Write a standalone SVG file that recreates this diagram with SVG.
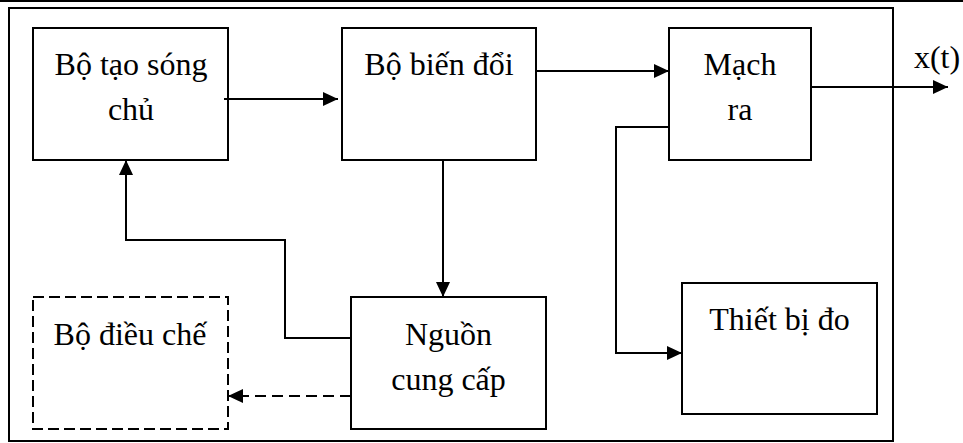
<svg xmlns="http://www.w3.org/2000/svg" width="963" height="443" viewBox="0 0 963 443">
<defs>
<marker id="arr" viewBox="0 0 15 14" refX="15" refY="7" markerWidth="15" markerHeight="14" markerUnits="userSpaceOnUse" orient="auto">
<path d="M0,0 L15,7 L0,14 Z" fill="#000"/>
</marker>
</defs>
<rect width="963" height="443" fill="#fff"/>
<line x1="0" y1="1" x2="963" y2="1" stroke="#000" stroke-width="2"/>
<rect id="frame" x="9" y="8" width="884" height="433" fill="none" stroke="#000" stroke-width="2"/>
<g fill="#fff" stroke="#000" stroke-width="2">
<rect id="n1" x="33" y="28" width="195" height="132"/>
<rect id="n2" x="342" y="28" width="194" height="132"/>
<rect id="n3" x="669" y="28" width="142" height="132"/>
<rect id="n4" x="351" y="297" width="195" height="132"/>
<rect id="n5" x="33" y="297" width="195" height="132" stroke-dasharray="11 5"/>
<rect id="n6" x="682" y="283" width="195" height="131"/>
</g>
<g id="labels" font-family="Liberation Serif" font-size="32" text-anchor="middle" fill="#000">
<text x="131" y="75">Bộ tạo sóng</text>
<text x="131" y="120">chủ</text>
<text x="439" y="75">Bộ biến đổi</text>
<text x="740" y="75">Mạch</text>
<text x="740" y="120">ra</text>
<text x="448.5" y="345">Nguồn</text>
<text x="448.5" y="390">cung cấp</text>
<text x="130" y="345">Bộ điều chế</text>
<text x="779.5" y="330">Thiết bị đo</text>
<text x="937" y="68">x(t)</text>
</g>
<g id="connectors" fill="none" stroke="#000" stroke-width="2">
<path d="M224,99 H338" marker-end="url(#arr)"/>
<path d="M536,71 H669" marker-end="url(#arr)"/>
<path d="M811,87 H948" marker-end="url(#arr)"/>
<path d="M443,160 V297" marker-end="url(#arr)"/>
<path d="M351,338 H285 V240 H126 V160" marker-end="url(#arr)"/>
<path d="M351,396 H228" stroke-dasharray="11 6" marker-end="url(#arr)"/>
<path d="M669,127 H616 V353 H682" marker-end="url(#arr)"/>
</g>
</svg>
